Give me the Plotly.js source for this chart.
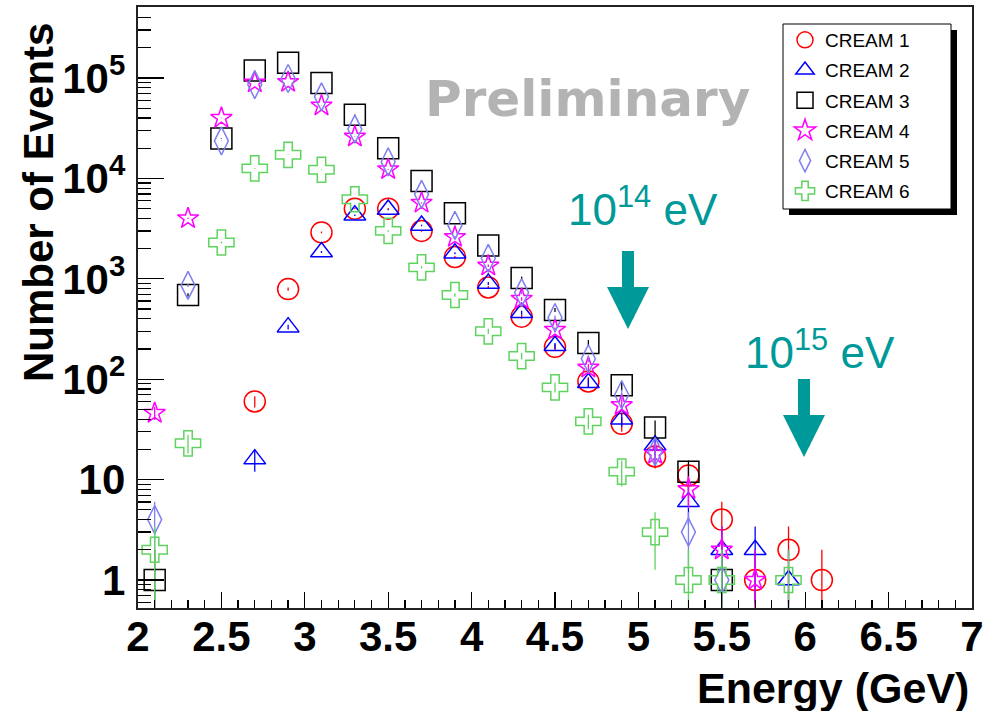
<!DOCTYPE html>
<html>
<head>
<meta charset="utf-8">
<script src="https://cdn.plot.ly/plotly-3.0.1.min.js"></script>
<style>
  html, body { margin: 0; padding: 0; background: #ffffff; }
  #chart { width: 996px; height: 711px; }
</style>
</head>
<body>
<div id="chart"></div>
<script>
// Energy bin centres (GeV), 0.2 GeV wide bins
const energy = [2.1, 2.3, 2.5, 2.7, 2.9, 3.1, 3.3, 3.5, 3.7, 3.9, 4.1, 4.3, 4.5, 4.7, 4.9, 5.1, 5.3, 5.5, 5.7, 5.9, 6.1];

// Event counts per bin for each flight (null = empty bin)
const cream1 = [null, null, null, 60, 790, 2900, 5000, 5000, 3000, 1650, 820, 420, 210, 95, 36, 17, 11, 4, 1, 2, 1];
const cream2 = [null, null, null, 16, 330, 1850, 4300, 4900, 3400, 1800, 900, 460, 215, 92, 40, 22, 6, 2, 2, 1, null];
const cream3 = [1, 690, 25000, 119000, 142000, 89000, 43000, 20000, 9400, 4500, 2150, 1020, 490, 230, 87, 33, 12, 1, null, null, null];
const cream4 = [46, 4000, 40000, 90000, 91000, 53000, 26000, 12300, 5700, 2600, 1350, 630, 310, 130, 55, 18, 8, 2, 1, null, null];
const cream5 = [4, 860, 23700, 86000, 99000, 65000, 31000, 14600, 6950, 3400, 1600, 730, 410, 160, 70, 19, 3, 1, null, null, null];
const cream6 = [2, 23, 2300, 12600, 17200, 12200, 6200, 3000, 1300, 690, 300, 170, 83, 38, 12, 3, 1, 1, null, 1, null];

const seriesNames = ['CREAM 1', 'CREAM 2', 'CREAM 3', 'CREAM 4', 'CREAM 5', 'CREAM 6'];

// marker styles per flight
const styles = [
  { symbol: 'circle-open',       color: '#ff0000', size: 21 },
  { symbol: 'triangle-up-open',  color: '#0000ff', size: 19 },
  { symbol: 'square-open',       color: '#000000', size: 21 },
  { symbol: 'star-open',         color: '#ff00ff', size: 16 },
  { symbol: 'diamond-tall-open', color: '#7f7ff0', size: 20 },
  { symbol: 'cross-open',        color: '#5fd35f', size: 21 }
];
const counts = [cream1, cream2, cream3, cream4, cream5, cream6];

// Poisson errors on the counts
const poisson = arr => arr.map(v => (v == null ? null : Math.sqrt(v)));

const traces = counts.map((arr, i) => ({
  type: 'scatter',
  mode: 'markers',
  name: seriesNames[i],
  legendgroup: 'g' + i,
  x: energy,
  y: arr,
  marker: {
    symbol: styles[i].symbol,
    color: styles[i].color,
    size: styles[i].size,
    line: { width: 1.5, color: styles[i].color }
  },
  error_y: {
    type: 'data', array: poisson(arr), symmetric: true,
    width: 0, thickness: 1.3, color: styles[i].color
  },
  hoverinfo: 'x+y+name'
}));

// plot frame in pixels: x 138..972, y 7..608
const L = 138, R = 972, T = 7, B = 608;
const px = v => (v - L) / (R - L);
const py = v => (B - v) / (B - T);

const teal = '#009999';
const boldSans = { family: 'Liberation Sans, Arial, sans-serif', weight: 'bold', color: '#000000' };

const layout = {
  width: 996, height: 711,
  margin: { l: L, r: 996 - R, t: T, b: 711 - B, pad: 0 },
  paper_bgcolor: '#ffffff', plot_bgcolor: '#ffffff',
  showlegend: true,
  legend: {
    x: px(785), y: py(21), xanchor: 'left', yanchor: 'top',
    bgcolor: 'rgba(0,0,0,0)', borderwidth: 0,
    traceorder: 'grouped', tracegroupgap: 2.5,
    font: { family: 'Liberation Sans, Arial, sans-serif', size: 19, color: '#000000' }
  },
  xaxis: {
    range: [2, 7], tick0: 2, dtick: 0.5,
    ticks: 'inside', ticklen: 16, tickwidth: 1.3, tickcolor: '#000000',
    minor: { dtick: 0.1, ticks: 'inside', ticklen: 8, tickwidth: 1.3, tickcolor: '#000000', showgrid: false },
    showgrid: false, zeroline: false,
    showline: true, mirror: true, linecolor: '#222222', linewidth: 2,
    tickfont: Object.assign({ size: 42 }, boldSans),
    ticklabelstandoff: -9
  },
  yaxis: {
    type: 'log', range: [Math.log10(0.526), Math.log10(5.1e5)],
    tick0: 0, dtick: 1, exponentformat: 'power',
    ticks: 'inside', ticklen: 26, tickwidth: 1.3, tickcolor: '#000000',
    minor: { dtick: 'D1', ticks: 'inside', ticklen: 13, tickwidth: 1.3, tickcolor: '#000000', showgrid: false },
    showgrid: false, zeroline: false,
    showline: true, mirror: true, linecolor: '#222222', linewidth: 2,
    tickfont: Object.assign({ size: 33.6 }, boldSans),
    ticklabelstandoff: 4
  },
  shapes: [
    // legend shadow and box
    { type: 'rect', xref: 'paper', yref: 'paper', layer: 'above',
      x0: px(789), x1: px(957), y0: py(215), y1: py(30),
      fillcolor: '#000000', line: { width: 0 } },
    { type: 'rect', xref: 'paper', yref: 'paper', layer: 'above',
      x0: px(783), x1: px(951), y0: py(209), y1: py(24),
      fillcolor: '#ffffff', line: { width: 1, color: '#000000' } }
  ],
  annotations: [
    { xref: 'paper', yref: 'paper', x: px(423), y: py(99), xanchor: 'left', yanchor: 'middle',
      text: 'Preliminary', showarrow: false,
      font: { family: 'DejaVu Sans, sans-serif', weight: 'bold', size: 50, color: '#b3b3b3' } },
    { xref: 'paper', yref: 'paper', x: px(566), y: py(206), xanchor: 'left', yanchor: 'middle',
      text: '10<sup>14</sup> eV', showarrow: false,
      font: { family: 'Liberation Sans, Arial, sans-serif', size: 44, color: teal } },
    { xref: 'paper', yref: 'paper', x: px(628), y: py(329),
      showarrow: true, ax: 0, ay: -88, arrowhead: 2, arrowwidth: 12, arrowsize: 0.7,
      arrowcolor: teal, standoff: 0 },
    { xref: 'paper', yref: 'paper', x: px(743), y: py(350), xanchor: 'left', yanchor: 'middle',
      text: '10<sup>15</sup> eV', showarrow: false,
      font: { family: 'Liberation Sans, Arial, sans-serif', size: 44, color: teal } },
    { xref: 'paper', yref: 'paper', x: px(804), y: py(457),
      showarrow: true, ax: 0, ay: -88, arrowhead: 2, arrowwidth: 12, arrowsize: 0.7,
      arrowcolor: teal, standoff: 0 },
    // axis titles
    { xref: 'paper', yref: 'paper', x: px(971), y: py(688), xanchor: 'right', yanchor: 'middle',
      text: 'Energy (GeV)', showarrow: false, font: Object.assign({ size: 43 }, boldSans) },
    { xref: 'paper', yref: 'paper', x: px(38), y: py(203), xanchor: 'center', yanchor: 'middle',
      text: 'Number of Events', textangle: -90, showarrow: false, font: Object.assign({ size: 42 }, boldSans) }
  ]
};

Plotly.newPlot('chart', traces, layout, { displayModeBar: false, staticPlot: true });
</script>
</body>
</html>
